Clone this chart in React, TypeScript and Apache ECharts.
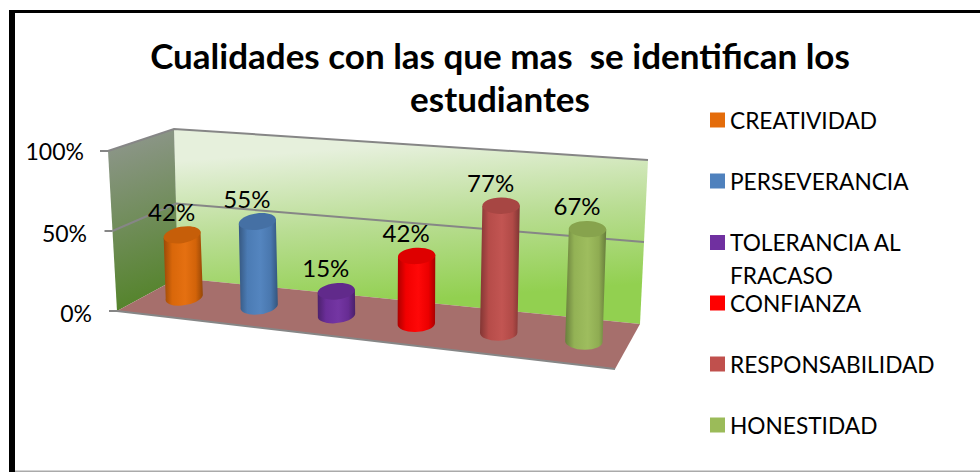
import React, { useEffect, useRef } from "react";
import * as echarts from "echarts";

const categories = ["CREATIVIDAD", "PERSEVERANCIA", "TOLERANCIA AL FRACASO", "CONFIANZA", "RESPONSABILIDAD", "HONESTIDAD"];
const values = [42, 55, 15, 42, 77, 67];
const colors = ["#E46C0A", "#4F81BD", "#7030A0", "#FF0000", "#C0504D", "#9BBB59"];
const yTicks = [0, 50, 100];
const titleLines = "Cualidades con las que mas  se identifican los\nestudiantes";

const FONT = "Lato";
const GRID = { left: 117, right: 365, top: 151, bottom: 161 };
const PLOT_W = 980 - GRID.left - GRID.right;
const PLOT_H = 472 - GRID.top - GRID.bottom;

function shade(hex: string, f: number) {
  const n = parseInt(hex.slice(1), 16);
  const c = [(n >> 16) & 255, (n >> 8) & 255, n & 255].map((v) =>
    Math.max(0, Math.min(255, Math.round(f <= 1 ? v * f : v + (255 - v) * (f - 1))))
  );
  return `rgb(${c[0]},${c[1]},${c[2]})`;
}

function cylinder(color: string) {
  return (params: any, api: any) => {
    const val = api.value(1);
    const base = api.coord([api.value(0), 0]);
    const top = api.coord([api.value(0), val]);
    // perspective: plot x -> position across the floor
    const u = (base[0] - GRID.left) / PLOT_W;
    const up = u / (u + (1 - u) * 1.1);
    const lift = 4 * Math.pow(1 - up, 3);
    const cx = 147.5 + 480 * up;
    const cy = 294.5 + 52 * up - lift;
    const h = ((base[1] - top[1]) / PLOT_H) * (150 + 20 * up) - lift;
    const tx = cx + h * 0.04 * (2 * up - 1);
    const ty = cy - h;
    const rx = 18.7;
    const ry = 8.2;
    const deg = -11 * (1 - up / 0.8);
    const a = (deg * Math.PI) / 180;
    const ex = rx * Math.cos(a);
    const ey = rx * Math.sin(a);
    const body = `M${tx - ex} ${ty - ey}L${cx - ex} ${cy - ey}A${rx} ${ry} ${deg} 0 0 ${cx + ex} ${cy + ey}L${tx + ex} ${ty + ey}Z`;
    return {
      type: "group",
      children: [
        {
          type: "path",
          shape: { pathData: body },
          style: {
            fill: new echarts.graphic.LinearGradient(0, 0, 1, 0, [
              { offset: 0, color: shade(color, 0.68) },
              { offset: 0.22, color: shade(color, 0.95) },
              { offset: 0.55, color: shade(color, 1.03) },
              { offset: 0.82, color: shade(color, 0.92) },
              { offset: 1, color: shade(color, 0.66) },
            ]),
          },
        },
        {
          type: "ellipse",
          x: tx,
          y: ty,
          rotation: -a,
          shape: { cx: 0, cy: 0, rx, ry },
          style: { fill: shade(color, 0.87) },
        },
        {
          type: "text",
          x: tx - 10.5,
          y: ty - 23.5,
          style: {
            text: `${val}%`,
            fontFamily: FONT,
            fontSize: 24,
            fill: "#000",
            align: "center",
            verticalAlign: "middle",
          },
        },
      ],
    };
  };
}

const lerp = (a: number[], b: number[], t: number) => [a[0] + (b[0] - a[0]) * t, a[1] + (b[1] - a[1]) * t];
const FL0 = [117, 311], FL1 = [108, 151];
const BL0 = [178, 278], BL1 = [174, 129];
const BR0 = [640, 324], BR1 = [648, 160];
const FR0 = [615, 369];

function gridLine(params: any, api: any) {
  const v = api.value(0);
  const t = (api.coord([0, 0])[1] - api.coord([0, v])[1]) / PLOT_H;
  const f = lerp(FL0, FL1, t), l = lerp(BL0, BL1, t), r = lerp(BR0, BR1, t);
  const style = { stroke: "#868686", lineWidth: 2, fill: "none" };
  const tick = { type: "line", shape: { x1: f[0] - 8, y1: f[1], x2: f[0], y2: f[1] }, style };
  const path = v === 0 ? [f, FR0] : [f, l, r];
  return { type: "group", children: [tick, { type: "polyline", shape: { points: path }, style }] };
}

export default function App() {
  const ref = useRef<HTMLDivElement>(null);
  useEffect(() => {
    const chart = echarts.init(ref.current!, null, { renderer: "svg" });
    const legendTops = [108, 169, 235, 291, 352, 413];
    chart.setOption({
      animation: false,
      backgroundColor: "#fff",
      grid: GRID,
      xAxis: { type: "category", data: categories, show: false },
      yAxis: {
        type: "value",
        min: 0,
        max: 100,
        interval: 50,
        axisLine: { show: false },
        axisTick: { show: false },
        splitLine: { show: false },
        axisLabel: {
          margin: 0,
          formatter: (v: number) => `{r${v}|${v}%}`,
          rich: {
            r0: { fontFamily: FONT, fontSize: 23, color: "#000", padding: [4, 25, 0, 0] },
            r50: { fontFamily: FONT, fontSize: 23, color: "#000", padding: [4, 30, 0, 0] },
            r100: { fontFamily: FONT, fontSize: 23, color: "#000", padding: [0, 33, 0, 0] },
          },
        },
      },
      title: {
        text: titleLines,
        left: 495,
        top: 28,
        textAlign: "center",
        textStyle: { fontFamily: FONT, fontWeight: "bold", fontSize: 35, lineHeight: 43.5, color: "#000" },
      },
      legend: categories.map((c, i) => ({
        data: [c],
        orient: "vertical",
        left: 710,
        top: i === 2 ? legendTops[i] + 7.5 - 49.5 : legendTops[i],
        itemWidth: 15,
        itemHeight: 15,
        icon: "rect",
        selectedMode: false,
        padding: 0,
        formatter: i === 2 ? () => "\nTOLERANCIA AL\nFRACASO" : undefined,
        textStyle: { fontFamily: FONT, fontSize: 22.7, color: "#000", lineHeight: i === 2 ? 33 : 24 },
      })),
      graphic: [
        { type: "rect", z: 0, shape: { x: 9, y: 10, width: 6, height: 462 }, style: { fill: "#000" } },
        { type: "rect", z: 0, shape: { x: 9, y: 10, width: 971, height: 3 }, style: { fill: "#000" } },
        { type: "rect", z: 0, shape: { x: 15, y: 470.5, width: 965, height: 1.5 }, style: { fill: "#aaa" } },
        {
          type: "polygon", z: 0,
          shape: { points: [BL1, BR1, BR0, BL0] },
          style: {
            fill: new echarts.graphic.LinearGradient(404, 144, 416, 301, [
              { offset: 0, color: "#E6F0DC" },
              { offset: 0.5, color: "#B9DD93" },
              { offset: 1, color: "#92D050" },
            ], true),
          },
        },
        {
          type: "polygon", z: 0,
          shape: { points: [FL1, BL1, BL0, FL0] },
          style: {
            fill: new echarts.graphic.LinearGradient(141, 140, 192, 285, [
              { offset: 0, color: "#8A9585" },
              { offset: 1, color: "#55842C" },
            ], true),
          },
        },
        { type: "polygon", z: 0, shape: { points: [BL0, BR0, FR0, FL0] }, style: { fill: "#A66F6C" } },
      ],
      series: [
        {
          type: "custom",
          name: "ejes",
          z: 1,
          silent: true,
          coordinateSystem: "cartesian2d",
          data: yTicks.map((t) => [t]),
          encode: { y: 0 },
          renderItem: gridLine,
        },
        ...categories.map((c, i) => ({
          type: "custom",
          name: c,
          z: 3,
          coordinateSystem: "cartesian2d",
          itemStyle: { color: colors[i] },
          data: [[i, values[i]]],
          encode: { x: 0, y: 1 },
          renderItem: cylinder(colors[i]),
        })),
      ],
    });
    return () => chart.dispose();
  }, []);
  return <div ref={ref} style={{ position: "fixed", left: 0, top: 0, width: 980, height: 472 }} />;
}
